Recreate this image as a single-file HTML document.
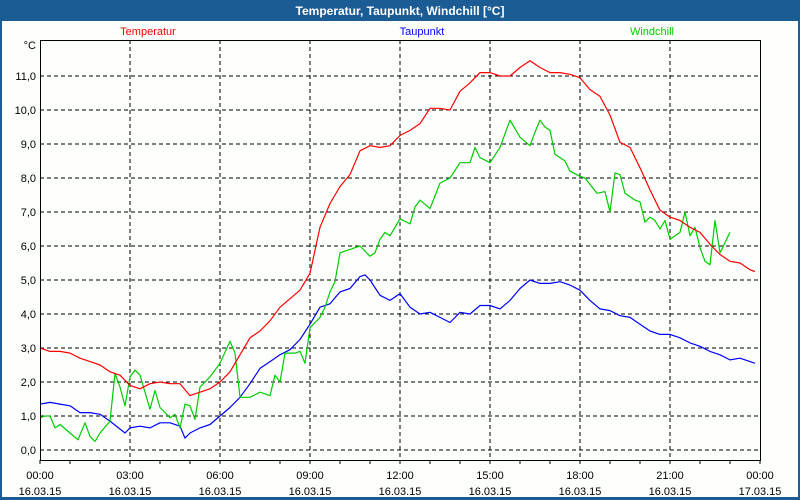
<!DOCTYPE html>
<html><head><meta charset="utf-8"><style>
html,body{margin:0;padding:0;background:#fff;}
#wrap{position:relative;width:800px;height:500px;overflow:hidden;font-family:"Liberation Sans",sans-serif;}
svg text{font-family:"Liberation Sans",sans-serif;}
</style></head><body>
<div id="wrap">
<svg id="chart" width="800" height="500" viewBox="0 0 800 500">
<rect x="0" y="0" width="800" height="500" fill="#1c5c94"/>
<rect x="2" y="21" width="796" height="476" fill="#fdfffd"/>
<text x="400" y="15" text-anchor="middle" font-size="12" font-weight="bold" fill="#fff">Temperatur, Taupunkt, Windchill [°C]</text>
<text x="148" y="35" text-anchor="middle" font-size="11" fill="#ff0000">Temperatur</text>
<text x="422" y="35" text-anchor="middle" font-size="11" fill="#0000ff">Taupunkt</text>
<text x="652" y="35" text-anchor="middle" font-size="11" fill="#00cc00">Windchill</text>
<text x="36" y="49" text-anchor="end" font-size="11" fill="#000">°C</text>
<g id="grid"></g><g id="series"></g><g id="axes"></g>
</svg></div>
<script>
const yTicks=[0,1,2,3,4,5,6,7,8,9,10,11];
const yTickLabels=["0,0","1,0","2,0","3,0","4,0","5,0","6,0","7,0","8,0","9,0","10,0","11,0"];
const xTickMinutes=[0,180,360,540,720,900,1080,1260,1440];
const xTickTimes=["00:00","03:00","06:00","09:00","12:00","15:00","18:00","21:00","00:00"];
const xTickDates=["16.03.15","16.03.15","16.03.15","16.03.15","16.03.15","16.03.15","16.03.15","16.03.15","17.03.15"];
const tempMinutes=[0,20,40,60,80,100,120,140,160,180,200,220,240,260,280,300,320,340,360,380,400,420,440,460,480,500,520,540,560,580,600,620,640,660,680,700,720,740,760,780,800,820,840,860,880,900,920,940,960,980,1000,1020,1040,1060,1080,1100,1120,1140,1160,1180,1200,1220,1240,1260,1280,1300,1320,1340,1360,1380,1400,1420,1430];
const tempValues=[3.0,2.9,2.9,2.85,2.7,2.6,2.5,2.3,2.2,1.9,1.8,1.95,2.0,1.95,1.95,1.6,1.7,1.8,2.0,2.3,2.8,3.3,3.5,3.8,4.2,4.45,4.7,5.2,6.55,7.25,7.75,8.1,8.8,8.95,8.9,8.95,9.25,9.4,9.6,10.05,10.05,10.0,10.55,10.8,11.1,11.1,11.0,11.0,11.25,11.45,11.25,11.1,11.1,11.05,10.95,10.6,10.4,9.85,9.05,8.9,8.3,7.65,7.05,6.85,6.75,6.55,6.4,6.05,5.75,5.55,5.5,5.3,5.25];
const dewMinutes=[0,20,40,60,80,100,120,140,170,180,200,220,240,260,280,290,300,320,340,360,380,400,420,440,460,480,500,520,540,560,580,600,620,640,650,660,680,700,720,740,760,780,800,820,840,860,880,900,920,940,960,980,1000,1020,1040,1060,1080,1100,1120,1140,1160,1180,1200,1220,1240,1260,1280,1300,1320,1340,1360,1380,1400,1420,1430];
const dewValues=[1.35,1.4,1.35,1.3,1.1,1.1,1.05,0.85,0.5,0.65,0.7,0.65,0.8,0.8,0.7,0.35,0.5,0.65,0.75,1.0,1.25,1.55,1.95,2.4,2.6,2.8,2.95,3.25,3.7,4.2,4.3,4.65,4.75,5.1,5.15,5.0,4.55,4.4,4.6,4.2,4.0,4.05,3.9,3.75,4.05,4.0,4.25,4.25,4.15,4.4,4.75,5.0,4.9,4.9,4.95,4.85,4.7,4.4,4.15,4.1,3.95,3.9,3.7,3.5,3.4,3.4,3.3,3.15,3.05,2.9,2.8,2.65,2.7,2.6,2.55];
const windMinutes=[0,10,20,30,40,60,76,90,100,110,120,140,150,160,170,180,190,200,220,230,240,260,270,280,290,300,310,320,340,360,380,390,400,420,440,460,470,480,490,510,520,530,540,550,560,570,580,590,600,620,630,640,660,670,680,690,700,720,740,750,760,780,800,820,840,860,870,880,900,920,930,940,960,980,990,1000,1010,1020,1030,1050,1060,1080,1090,1114,1130,1140,1150,1160,1170,1190,1200,1210,1220,1230,1240,1250,1260,1280,1290,1300,1310,1320,1330,1340,1350,1360,1380,1394,1410,1420,1430];
const windValues=[0.95,1.0,1.0,0.65,0.75,0.5,0.3,0.8,0.4,0.25,0.5,0.85,2.25,1.85,1.3,2.15,2.35,2.2,1.2,1.75,1.25,0.95,1.05,0.65,1.35,1.3,0.9,1.85,2.15,2.55,3.2,2.85,1.55,1.55,1.7,1.6,2.2,2.0,2.85,2.85,2.9,2.55,3.6,3.75,3.9,4.2,4.65,4.95,5.8,5.9,5.95,6.0,5.7,5.8,6.2,6.4,6.3,6.8,6.65,7.15,7.35,7.1,7.85,8.0,8.45,8.45,8.9,8.6,8.45,8.9,9.3,9.7,9.2,8.95,9.35,9.7,9.5,9.4,8.7,8.5,8.2,8.05,8.0,7.55,7.6,7.0,8.15,8.1,7.55,7.35,7.3,6.7,6.85,6.75,6.5,6.75,6.2,6.4,7.0,6.3,6.55,5.95,5.55,5.45,6.75,5.8,6.4];

const X0=40,X1=760,Y0=450,PPU=34,TOP=40,BOT=460;
const NS="http://www.w3.org/2000/svg";
function xs(m){return X0+(X1-X0)*m/1440;}
function ys(v){return Y0-v*PPU;}
function mk(parent,tag,attrs){const e=document.createElementNS(NS,tag);for(const k in attrs)e.setAttribute(k,attrs[k]);parent.appendChild(e);return e;}
const grid=document.getElementById('grid'),axes=document.getElementById('axes'),series=document.getElementById('series');
yTicks.forEach((v,i)=>{
  const l=mk(grid,'line',{x1:X0,x2:X1,y1:ys(v),y2:ys(v),stroke:'#000','stroke-width':1,'stroke-dasharray':'4,3'});
  
  
  const t=mk(axes,'text',{x:36,y:ys(v)+4,'text-anchor':'end','font-size':11,fill:'#000'});
  t.textContent=yTickLabels[i];
  
  
});
xTickMinutes.forEach((m,i)=>{
  if(i>0&&i<xTickMinutes.length-1){
    const l=mk(grid,'line',{x1:xs(m),x2:xs(m),y1:TOP,y2:BOT,stroke:'#000','stroke-width':1,'stroke-dasharray':'4,3'});
    
    
  }
  const t=mk(axes,'text',{x:xs(m),y:479,'text-anchor':'middle','font-size':11,fill:'#000'});
  t.textContent=xTickTimes[i];
  
  
  const d=mk(axes,'text',{x:xs(m),y:495,'text-anchor':'middle','font-size':11,fill:'#000'});
  d.textContent=xTickDates[i];
  
  
});
for(let h=0;h<=24;h++){
  const tk=mk(axes,'line',{x1:xs(h*60),x2:xs(h*60),y1:BOT,y2:BOT+4,stroke:'#000','stroke-width':1});
  
  
}
const box=mk(axes,'path',{d:`M${X0+0.5},${TOP+0.5} H${X1} M${X0+0.5},${TOP} V${BOT+0.5} H${X1+0.5} V${TOP}`,stroke:'#000','stroke-width':1,fill:'none'});


function line(mins,vals,color,name){
  const p=mins.map((m,i)=>xs(m).toFixed(1)+','+ys(vals[i]).toFixed(1)).join(' ');
  const e=mk(series,'polyline',{points:p,fill:'none',stroke:color,'stroke-width':1.2,'stroke-linejoin':'round'});
  
  
}
line(dewMinutes,dewValues,'#0000ff','taupunkt-line');
line(windMinutes,windValues,'#00cc00','windchill-line');
line(tempMinutes,tempValues,'#ff0000','temperatur-line');
</script></body></html>
